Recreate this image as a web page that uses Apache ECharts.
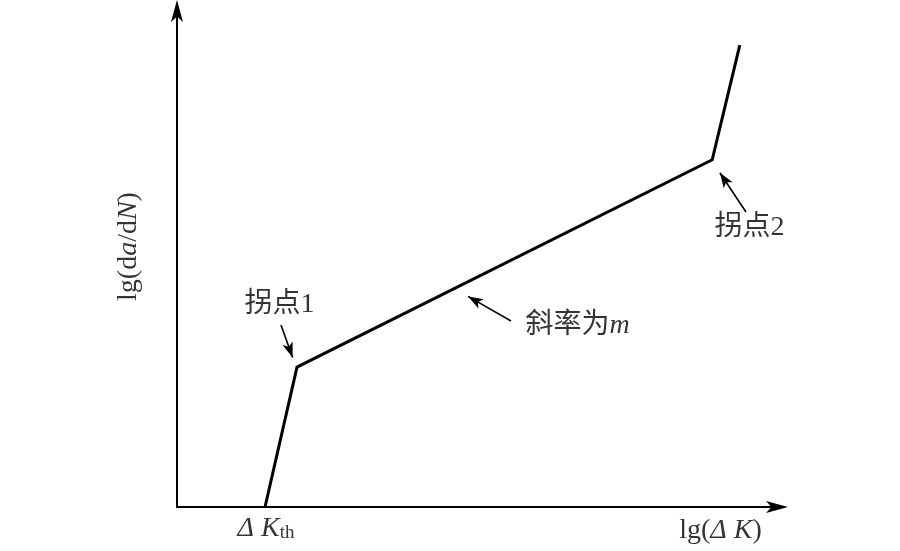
<!DOCTYPE html>
<html>
<head>
<meta charset="utf-8">
<script src="https://cdn.jsdelivr.net/npm/echarts@6/dist/echarts.min.js"></script>
<style>html,body{margin:0;padding:0;background:#fff}#c{width:900px;height:551px}</style>
</head>
<body>
<div id="c"></div>
<script>
// Curve (schematic units: x 0..100, y 0..100)
const curveX = [14.67, 20.0, 89.2, 93.8];
const curveY = [0, 28.2, 70.0, 93.1];

// Annotation arrows: tail -> head
const arrowTail = [[17.33, 36.69], [55.67, 37.50], [94.83, 59.48]];
const arrowHead = [[19.27, 30.16], [48.52, 42.46], [90.48, 67.38]];

// Annotation texts
const noteTexts = ['拐点1', '斜率为{i|m}', '拐点2'];
const noteX = [17.08, 66.75, 95.42];
const noteY = [40.83, 36.49, 56.35];

// Axis texts
const axisTexts = ['{i|Δ K}{s|th}', 'lg({i|Δ K})', 'lg(d{i|a}/d{i|N})'];
const axisTextX = [14.83, 90.58, -8];
const axisTextY = [-4.33, -4.84, 52.52];
const axisTextRotate = [0, 0, 90];

const FONT = "'Liberation Serif','Noto Sans CJK SC',serif";
const rich = {
  i: {fontFamily: FONT, fontSize: 28, fontStyle: 'italic', color: '#000'},
  s: {fontFamily: FONT, fontSize: 19, color: '#000', verticalAlign: 'bottom'}
};

const chart = echarts.init(document.getElementById('c'), null, {renderer: 'canvas'});

const labelData = [];
noteTexts.forEach((t, k) => labelData.push({value: [noteX[k], noteY[k]], text: t, rot: 0}));
axisTexts.forEach((t, k) => labelData.push({value: [axisTextX[k], axisTextY[k]], text: t, rot: axisTextRotate[k]}));

const axisLineStyle = {
  show: true, onZero: false, symbol: ['none', 'arrow'], symbolSize: [9, 22], symbolOffset: [0, 11],
  lineStyle: {color: '#000', width: 2}
};

chart.setOption({
  backgroundColor: '#fff',
  animation: false,
  grid: {left: 177, right: 123, top: 11, bottom: 44},
  xAxis: {
    type: 'value', min: 0, max: 100,
    axisLine: axisLineStyle,
    axisTick: {show: false}, axisLabel: {show: false}, splitLine: {show: false}
  },
  yAxis: {
    type: 'value', min: 0, max: 100,
    axisLine: axisLineStyle,
    axisTick: {show: false}, axisLabel: {show: false}, splitLine: {show: false}
  },
  series: [
    {
      type: 'line',
      data: curveX.map((x, k) => [x, curveY[k]]),
      symbol: 'none',
      clip: false,
      lineStyle: {color: '#000', width: 3, join: 'miter'}
    },
    {
      type: 'lines',
      coordinateSystem: 'cartesian2d',
      data: arrowTail.map((t, k) => ({coords: [t, arrowHead[k]]})),
      symbol: ['none', 'arrow'],
      symbolSize: [1, [8, 15]],
      lineStyle: {color: '#000', width: 1.6, opacity: 1, curveness: 0},
      itemStyle: {color: '#000'}
    },
    {
      type: 'scatter',
      clip: false,
      symbolSize: 0,
      silent: true,
      data: labelData.map(d => ({
        value: d.value,
        label: {
          show: true, position: 'inside', rotate: d.rot,
          formatter: d.text, fontFamily: FONT, fontSize: 28, color: '#000', rich: rich
        }
      }))
    }
  ]
});
</script>
</body>
</html>
